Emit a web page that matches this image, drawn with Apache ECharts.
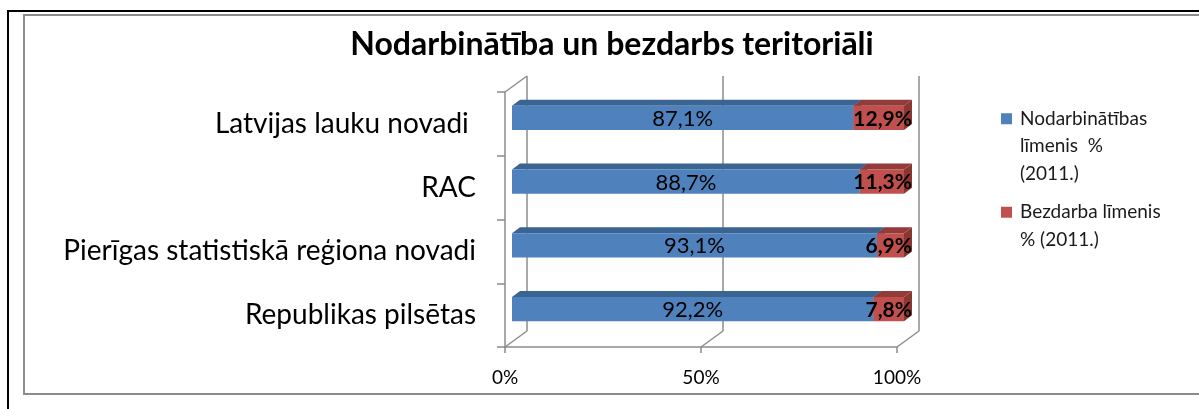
<!DOCTYPE html>
<html>
<head>
<meta charset="utf-8">
<script src="https://cdn.jsdelivr.net/npm/echarts@6/dist/echarts.min.js"></script>
<style>
html, body { margin: 0; padding: 0; background: #fff; overflow: hidden; }
.frame { position: absolute; left: 7px; top: 10px; width: 1300px; height: 500px; border-left: 2px solid #000; border-top: 2px solid #000; }
.inner { position: absolute; left: 23px; top: 14px; width: 1300px; height: 377px; border: 2px solid #8c8c8c; }
#chart { position: absolute; left: 0; top: 0; width: 1199px; height: 409px; }
</style>
</head>
<body>
<div class="frame"></div>
<div class="inner"></div>
<div id="chart"></div>
<script>
var categories = ['Latvijas lauku novadi ', 'RAC', 'Pierīgas statistiskā reģiona novadi', 'Republikas pilsētas'];
var employed = [87.1, 88.7, 93.1, 92.2];
var unemployed = [12.9, 11.3, 6.9, 7.8];
var seriesNames = ['Nodarbinātības līmenis  % (2011.)', 'Bezdarba līmenis % (2011.)'];
// tukšās rindas augšā, lai ikona sakristu ar pirmo rindu
var legendText = ['\n\nNodarbinātības\nlīmenis  %\n(2011.)', '\nBezdarba līmenis\n% (2011.)'];
var xTicks = [0, 50, 100];

var FONT = 'Lato';
var blue = { front: '#4f81bd', top: '#3a6593', side: '#36608c' };
var red = { front: '#c0504d', top: '#933b39', side: '#8a3734' };

function fmt(v) {
    return v.toFixed(1).replace('.', ',') + '%';
}

// 3d-ish kaste vienam segmentam
function makeBox(colors, bold) {
    return function (params, api) {
        var cat = api.value(0);
        var start = api.value(1);
        var end = api.value(2);
        var p0 = api.coord([start, cat]);
        var p1 = api.coord([end, cat]);
        var band = api.size([0, 1])[1];
        var h = band * 0.38;
        var d = 8, dy = 6;
        var x0 = p0[0] + 7, x1 = p1[0] + 7;
        var y0 = p0[1] - 6 - h / 2, y1 = y0 + h;
        var label = fmt(end - start);
        var text = bold
            ? { type: 'text', z2: 10, style: { text: label, x: x1 + 8, y: (y0 + y1) / 2 + 1, align: 'right', verticalAlign: 'middle', fill: '#000', font: 'bold 21px ' + FONT } }
            : { type: 'text', z2: 10, style: { text: label, x: (x0 + x1) / 2, y: (y0 + y1) / 2 + 1, align: 'center', verticalAlign: 'middle', fill: '#000', font: '22px ' + FONT } };
        return {
            type: 'group',
            children: [
                { type: 'polygon', shape: { points: [[x0, y0], [x0 + d, y0 - dy], [x1 + d, y0 - dy], [x1, y0]] }, style: { fill: colors.top } },
                { type: 'polygon', shape: { points: [[x1, y0], [x1 + d, y0 - dy], [x1 + d, y1 - dy], [x1, y1]] }, style: { fill: colors.side } },
                { type: 'rect', shape: { x: x0, y: y0, width: x1 - x0, height: h }, style: { fill: colors.front } },
                text
            ]
        };
    };
}

// grīdas un sienas diagonāles
function renderWall(params, api) {
    var v = api.value(0);
    var cat = api.value(1);
    var side = api.value(2);
    var pt = api.coord([v, cat]);
    var band = api.size([0, 1])[1];
    var y = pt[1] + side * band / 2;
    return {
        type: 'line',
        shape: { x1: pt[0], y1: y, x2: pt[0] + 22, y2: y - 16 },
        style: { stroke: '#8c8c8c', lineWidth: 1.5 }
    };
}

var empData = employed.map(function (v, i) { return [i, 0, v]; });
var unempData = unemployed.map(function (v, i) { return [i, employed[i], employed[i] + v]; });
var wallData = xTicks.map(function (v) { return [v, categories.length - 1, 1]; });
wallData.push([0, 0, -1]);

var legendStyle = { fontFamily: FONT, fontSize: 19, color: '#1a1a1a', lineHeight: 27.5, padding: [0, 0, 0, 3] };

var chart = echarts.init(document.getElementById('chart'));
chart.setOption({
    animation: false,
    backgroundColor: 'transparent',
    title: {
        text: 'Nodarbinātība un bezdarbs teritoriāli',
        left: 612,
        textAlign: 'center',
        top: 29,
        padding: 0,
        textStyle: { fontFamily: FONT, fontWeight: 'bold', fontSize: 32, color: '#000' }
    },
    legend: [
        {
            left: 1001, top: 50, padding: 0, orient: 'vertical',
            itemWidth: 11, itemHeight: 11, icon: 'rect',
            data: [{ name: seriesNames[0], itemStyle: { color: blue.front } }],
            formatter: function () { return legendText[0]; },
            textStyle: legendStyle
        },
        {
            left: 1001, top: 171, padding: 0, orient: 'vertical',
            itemWidth: 11, itemHeight: 11, icon: 'rect',
            data: [{ name: seriesNames[1], itemStyle: { color: red.front } }],
            formatter: function () { return legendText[1]; },
            textStyle: legendStyle
        }
    ],
    grid: [
        { left: 505, right: 302, top: 92, bottom: 62 },
        { left: 527, right: 280, top: 76, bottom: 78 }
    ],
    xAxis: [
        {
            gridIndex: 0, type: 'value', min: 0, max: 100, interval: 50,
            axisLine: { show: true, lineStyle: { color: '#8c8c8c', width: 1.5 } },
            axisTick: { show: true, length: 6, lineStyle: { color: '#8c8c8c', width: 1.5 } },
            axisLabel: { formatter: '{value}%', fontFamily: FONT, fontSize: 19, color: '#000', margin: 21 },
            splitLine: { show: false }
        },
        {
            gridIndex: 1, type: 'value', min: 0, max: 100, interval: 50,
            axisLine: { show: false }, axisTick: { show: false }, axisLabel: { show: false },
            splitLine: { show: true, lineStyle: { color: '#8c8c8c', width: 1.5 } }
        }
    ],
    yAxis: [
        {
            gridIndex: 0, type: 'category', data: categories, inverse: true,
            axisLine: { show: true, lineStyle: { color: '#8c8c8c', width: 1.5 } },
            axisTick: { show: true, length: 8, lineStyle: { color: '#8c8c8c', width: 1.5 } },
            axisLabel: { fontFamily: FONT, fontSize: 28, color: '#000', margin: 29 }
        },
        { gridIndex: 1, type: 'value', show: false }
    ],
    series: [
        {
            name: 'walls', type: 'custom', xAxisIndex: 0, yAxisIndex: 0, z: 1,
            renderItem: renderWall, data: wallData, encode: { x: 0, y: 1 }, silent: true
        },
        {
            name: seriesNames[0], type: 'custom', xAxisIndex: 0, yAxisIndex: 0, z: 5,
            itemStyle: { color: blue.front },
            renderItem: makeBox(blue, false), data: empData, encode: { x: [1, 2], y: 0 }
        },
        {
            name: seriesNames[1], type: 'custom', xAxisIndex: 0, yAxisIndex: 0, z: 6,
            itemStyle: { color: red.front },
            renderItem: makeBox(red, true), data: unempData, encode: { x: [1, 2], y: 0 }
        }
    ]
});
</script>
</body>
</html>
